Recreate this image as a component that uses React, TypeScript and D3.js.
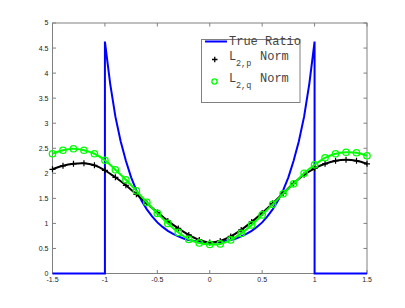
import React from 'react';
import * as d3 from 'd3';

// sample grid of the two estimated curves (every 0.1 from -1.5 to 1.5)
const gridX = [-1.5, -1.4, -1.3, -1.2, -1.1, -1.0, -0.9, -0.8, -0.7, -0.6, -0.5, -0.4, -0.3, -0.2, -0.1, 0,
  0.1, 0.2, 0.3, 0.4, 0.5, 0.6, 0.7, 0.8, 0.9, 1.0, 1.1, 1.2, 1.3, 1.4, 1.5];

const l2pValues = [2.08, 2.15, 2.19, 2.2, 2.16, 2.06, 1.92, 1.76, 1.58, 1.4, 1.22, 1.05, 0.9, 0.77, 0.67, 0.62,
  0.65, 0.74, 0.87, 1.03, 1.21, 1.4, 1.6, 1.8, 1.97, 2.1, 2.19, 2.25, 2.27, 2.25, 2.19];

const l2qValues = [2.39, 2.46, 2.49, 2.46, 2.39, 2.26, 2.07, 1.87, 1.65, 1.42, 1.2, 1.0, 0.82, 0.68, 0.61, 0.58,
  0.59, 0.67, 0.8, 0.97, 1.17, 1.38, 1.59, 1.79, 2.0, 2.17, 2.31, 2.39, 2.42, 2.41, 2.35];

// true ratio: zero outside [-1, 1], jumps at the ends
const trueX = [-1.5, -1, -1, -0.95, -0.9, -0.85, -0.8, -0.75, -0.7, -0.65, -0.6, -0.55, -0.5, -0.45, -0.4,
  -0.35, -0.3, -0.25, -0.2, -0.15, -0.1, -0.05, 0, 0.05, 0.1, 0.15, 0.2, 0.25, 0.3, 0.35, 0.4, 0.45, 0.5,
  0.55, 0.6, 0.65, 0.7, 0.75, 0.8, 0.85, 0.9, 0.95, 1, 1, 1.5];
const trueValues = [0, 0, 4.63, 3.79, 3.13, 2.64, 2.25, 1.92, 1.66, 1.45, 1.28, 1.14, 1.02, 0.93, 0.85,
  0.79, 0.74, 0.7, 0.67, 0.65, 0.63, 0.623, 0.62, 0.623, 0.63, 0.65, 0.67, 0.7, 0.74, 0.79, 0.85, 0.93, 1.02,
  1.14, 1.28, 1.45, 1.66, 1.92, 2.25, 2.64, 3.13, 3.79, 4.63, 0, 0];

const xTicks = [-1.5, -1, -0.5, 0, 0.5, 1, 1.5];
const yTicks = [0, 0.5, 1, 1.5, 2, 2.5, 3, 3.5, 4, 4.5, 5];

const App = () => {
  const left = 52.5, right = 367, top = 23, bottom = 273.5;
  const x = d3.scaleLinear().domain([-1.5, 1.5]).range([left, right]);
  const y = d3.scaleLinear().domain([0, 5]).range([bottom, top]);

  const line = d3.line<[number, number]>().x(d => x(d[0])).y(d => y(d[1]));
  const smooth = d3.line<[number, number]>().x(d => x(d[0])).y(d => y(d[1])).curve(d3.curveCatmullRom);

  const truePts = trueX.map((v, i) => [v, trueValues[i]] as [number, number]);
  const pPts = gridX.map((v, i) => [v, l2pValues[i]] as [number, number]);
  const qPts = gridX.map((v, i) => [v, l2qValues[i]] as [number, number]);

  const axisColor = '#808080';
  const tick = 3.5;
  const mono = '"Liberation Mono", "DejaVu Sans Mono", monospace';
  const legendInk = '#444';

  return (
    <div style={{ position: 'fixed', left: 0, top: 0 }}>
      <svg width={405} height={308} style={{ display: 'block', background: '#fff' }}>
        <rect x={0} y={0} width={405} height={308} fill="#fff" />

        {/* axes box and ticks */}
        <rect x={left} y={top} width={right - left} height={bottom - top} fill="none" stroke={axisColor} strokeWidth={1} />
        {xTicks.map(t => (
          <g key={'x' + t}>
            <line x1={x(t)} x2={x(t)} y1={bottom} y2={bottom - tick} stroke={axisColor} />
            <line x1={x(t)} x2={x(t)} y1={top} y2={top + tick} stroke={axisColor} />
            <text x={x(t)} y={282} textAnchor="middle" fontSize={7} fontFamily="Liberation Sans, Arial, sans-serif" fill="#222">
              {t}
            </text>
          </g>
        ))}
        {yTicks.map(t => (
          <g key={'y' + t}>
            <line x1={left} x2={left + tick} y1={y(t)} y2={y(t)} stroke={axisColor} />
            <line x1={right} x2={right - tick} y1={y(t)} y2={y(t)} stroke={axisColor} />
            <text x={left - 4} y={y(t)} dy="0.35em" textAnchor="end" fontSize={7} fontFamily="Liberation Sans, Arial, sans-serif" fill="#222">
              {t}
            </text>
          </g>
        ))}

        {/* series */}
        <path d={line(truePts) || ''} fill="none" stroke="#0000ff" strokeWidth={2} />

        <path d={smooth(pPts) || ''} fill="none" stroke="#000" strokeWidth={2} />
        {pPts.map((d, i) => (
          <path key={'p' + i} d={`M${x(d[0]) - 3},${y(d[1])}h6M${x(d[0])},${y(d[1]) - 3}v6`} stroke="#000" strokeWidth={1.2} />
        ))}

        <path d={smooth(qPts) || ''} fill="none" stroke="#00ff00" strokeWidth={2} />
        {qPts.map((d, i) => (
          <circle key={'q' + i} cx={x(d[0])} cy={y(d[1])} r={3.2} fill="none" stroke="#00ff00" strokeWidth={1.3} />
        ))}

        {/* legend */}
        <rect x={201.5} y={39.5} width={98.5} height={63} fill="#fff" stroke={axisColor} strokeWidth={1} />
        <line x1={205} x2={227} y1={41.5} y2={41.5} stroke="#0000ff" strokeWidth={2} />
        <text x={229} y={45} fontSize={12} fontFamily={mono} fill={legendInk}>True Ratio</text>

        <path d="M212,59.5h5.5M214.75,56.75v5.5" stroke="#000" strokeWidth={1.3} />
        <text x={229} y={59.7} fontSize={12} fontFamily={mono} fill={legendInk}>L</text>
        <text x={236} y={65.5} fontSize={8.5} fontFamily={mono} fill={legendInk}>2,p</text>
        <text x={260} y={59.7} fontSize={12} fontFamily={mono} fill={legendInk}>Norm</text>

        <circle cx={214.5} cy={81.5} r={2.6} fill="none" stroke="#00ff00" strokeWidth={1.3} />
        <text x={229} y={81.5} fontSize={12} fontFamily={mono} fill={legendInk}>L</text>
        <text x={236} y={87.5} fontSize={8.5} fontFamily={mono} fill={legendInk}>2,q</text>
        <text x={260} y={81.5} fontSize={12} fontFamily={mono} fill={legendInk}>Norm</text>
      </svg>
    </div>
  );
};

export default App;
